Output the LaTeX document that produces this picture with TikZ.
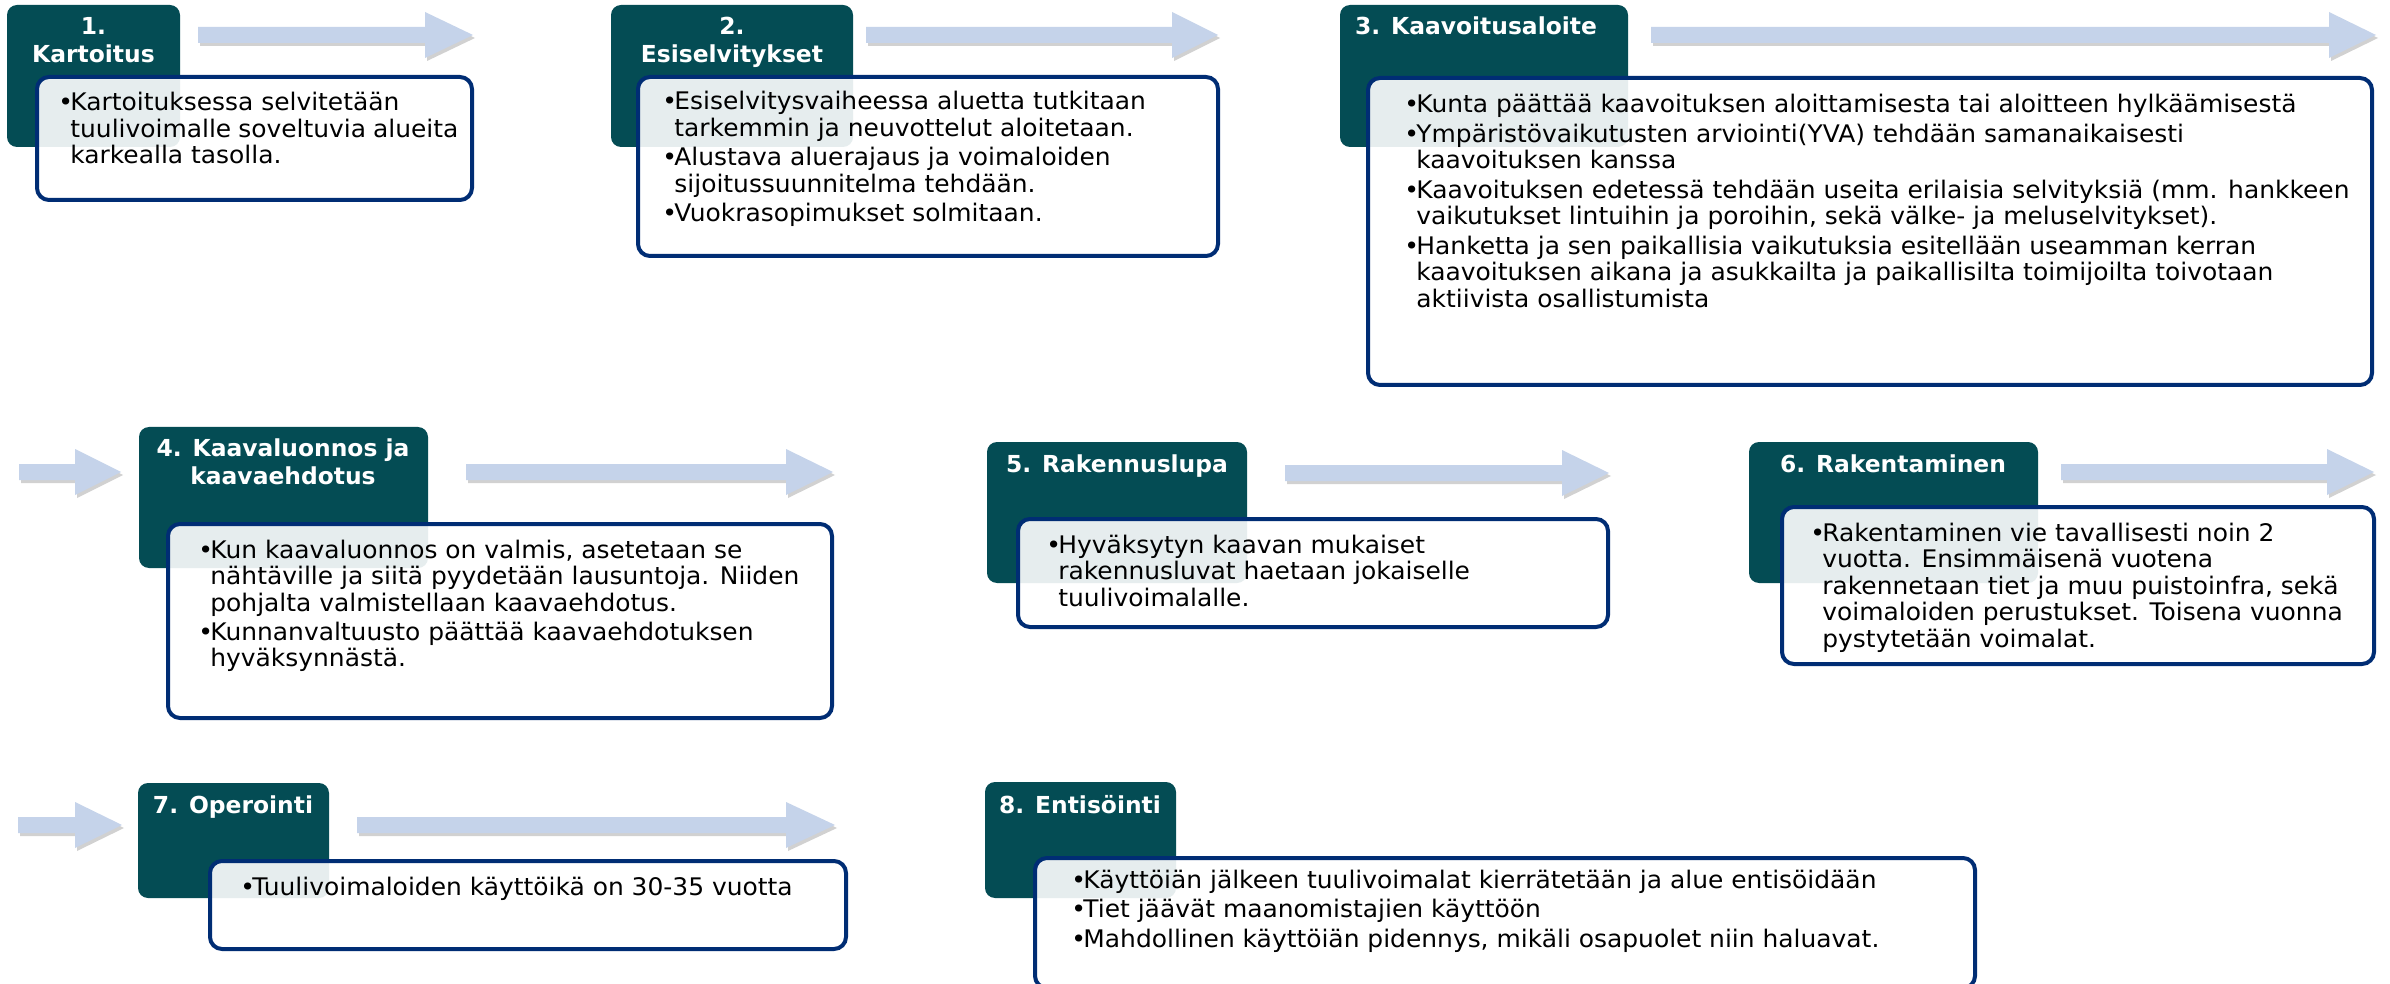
\documentclass[tikz,border=0pt]{standalone}
\usepackage{fontspec}
\setmainfont{DejaVu Sans}
\newfontfamily\bodyfont[FakeStretch=1.03]{DejaVu Sans}
\definecolor{hdrteal}{RGB}{4,76,84}
\definecolor{navyline}{RGB}{0,45,116}
\definecolor{arrowblue}{RGB}{197,211,234}
\newlength{\bulw}
\setlength{\bulw}{6pt}
\newcommand{\bitem}{\par\noindent\hangindent=\bulw\hangafter=1\makebox[\bulw][l]{•}\ignorespaces}
\newcommand{\bodytext}[2]{\parbox[t]{#1}{\bodyfont\fontsize{12.1pt}{13.25pt}\selectfont\parskip=1.5pt #2}}
\newcommand{\headtext}[2]{\parbox[t]{#1}{\fontsize{11.7pt}{13.6pt}\selectfont\bfseries\centering #2}}
\newcommand{\flowarrow}[4]{%
  \fill[arrowshade, shift={(2,3)}] (#1,#4-8) -- (#2,#4-8) -- (#2,#4-23) -- (#3,#4) -- (#2,#4+23) -- (#2,#4+8) -- (#1,#4+8) -- cycle;
  \fill[arrowblue] (#1,#4-8) -- (#2,#4-8) -- (#2,#4-23) -- (#3,#4) -- (#2,#4+23) -- (#2,#4+8) -- (#1,#4+8) -- cycle;
}
\tikzset{
  arrowshade/.style={fill=black, opacity=0.18},
  hdr/.style={fill=hdrteal, rounded corners=5pt, anchor=north west, inner sep=0pt, outer sep=0pt},
  wbox/.style={draw=navyline, line width=2pt, fill=white, fill opacity=0.9, rounded corners=6pt, anchor=north west, inner sep=0pt},
  htext/.style={text=white, anchor=base, inner sep=0pt},
  btext/.style={text=black, anchor=base west, inner sep=0pt},
}
\begin{document}
\begin{tikzpicture}[x=0.5pt, y=-0.5pt]
\useasboundingbox (0,0) rectangle (2390,984);
\fill[white] (0,0) rectangle (2390,984);
\clip (0,0) rectangle (2390,984);

% arrows
\flowarrow{198}{425}{473}{35}
\flowarrow{866}{1172}{1218}{35}
\flowarrow{1651}{2329}{2376}{35}
\flowarrow{19}{75}{121}{472}
\flowarrow{466}{786}{833}{472}
\flowarrow{1285}{1562}{1609}{473}
\flowarrow{2061}{2327}{2374}{472}
\flowarrow{18}{75}{122}{825}
\flowarrow{357}{786}{835}{825}

% header boxes
\node[hdr, minimum width=86.5pt, minimum height=71pt] (h1) at (7,5) {};
\node[hdr, minimum width=121pt, minimum height=71pt] (h2) at (611,5) {};
\node[hdr, minimum width=144pt, minimum height=71pt] (h3) at (1340,5) {};
\node[hdr, minimum width=144.5pt, minimum height=70.5pt] (h4) at (139,427) {};
\node[hdr, minimum width=130pt, minimum height=70.5pt] (h5) at (987,442) {};
\node[hdr, minimum width=144.5pt, minimum height=70.5pt] (h6) at (1749,442) {};
\node[hdr, minimum width=95.5pt, minimum height=57.5pt] (h7) at (138,783) {};
\node[hdr, minimum width=95.5pt, minimum height=58pt] (h8) at (985,782) {};

% header texts
\node[htext] (h1t) at (93.5,35) {\headtext{84pt}{1.\\Kartoitus}};
\node[htext] (h2t) at (732,35) {\headtext{118pt}{2.\\Esiselvitykset}};
\node[htext] (h3t) at (1476,35) {\headtext{140pt}{3. Kaavoitusaloite}};
\node[htext] (h4t) at (283,457) {\headtext{140pt}{4. Kaavaluonnos ja\\kaavaehdotus}};
\node[htext] (h5t) at (1117,473) {\headtext{126pt}{5. Rakennuslupa}};
\node[htext] (h6t) at (1893,473) {\headtext{140pt}{6. Rakentaminen}};
\node[htext] (h7t) at (233,813) {\headtext{92pt}{7. Operointi}};
\node[htext] (h8t) at (1080,813) {\headtext{92pt}{8. Entisöinti}};

% white boxes
\node[wbox, minimum width=217.5pt, minimum height=61.5pt] (w1) at (35,75) {};
\node[wbox, minimum width=290pt, minimum height=89.5pt] (w2) at (636,75) {};
\node[wbox, minimum width=502pt, minimum height=153.5pt] (w3) at (1366,76) {};
\node[wbox, minimum width=332pt, minimum height=97pt] (w4) at (166,522) {};
\node[wbox, minimum width=295pt, minimum height=54pt] (w5) at (1016,517) {};
\node[wbox, minimum width=296pt, minimum height=78.5pt] (w6) at (1780,505) {};
\node[wbox, minimum width=318pt, minimum height=44pt] (w7) at (208,859) {};
\node[wbox, minimum width=470pt, minimum height=65pt] (w8) at (1033,856) {};

% body texts
\node[btext] (t1) at (58,111) {\bodytext{200pt}{%
\bitem Kartoituksessa selvitetään\\tuulivoimalle soveltuvia alueita\\karkealla tasolla.}};
\node[btext] (t2) at (662,110) {\bodytext{270pt}{%
\bitem Esiselvitysvaiheessa aluetta tutkitaan\\tarkemmin ja neuvottelut aloitetaan.
\bitem Alustava aluerajaus ja voimaloiden\\sijoitussuunnitelma tehdään.
\bitem Vuokrasopimukset solmitaan.}};
\node[btext] (t3) at (1404,113) {\bodytext{480pt}{%
\bitem Kunta päättää kaavoituksen aloittamisesta tai aloitteen hylkäämisestä
\bitem Ympäristövaikutusten arviointi(YVA) tehdään samanaikaisesti\\kaavoituksen kanssa
\bitem Kaavoituksen edetessä tehdään useita erilaisia selvityksiä (mm. hankkeen\\vaikutukset lintuihin ja poroihin, sekä välke- ja meluselvitykset).
\bitem Hanketta ja sen paikallisia vaikutuksia esitellään useamman kerran\\kaavoituksen aikana ja asukkailta ja paikallisilta toimijoilta toivotaan\\aktiivista osallistumista}};
\node[btext] (t4) at (198,558) {\bodytext{310pt}{%
\bitem Kun kaavaluonnos on valmis, asetetaan se\\nähtäville ja siitä pyydetään lausuntoja. Niiden\\pohjalta valmistellaan kaavaehdotus.
\bitem Kunnanvaltuusto päättää kaavaehdotuksen\\hyväksynnästä.}};
\node[btext] (t5) at (1046,553) {\bodytext{270pt}{%
\bitem Hyväksytyn kaavan mukaiset\\rakennusluvat haetaan jokaiselle\\tuulivoimalalle.}};
\node[btext] (t6) at (1810,541) {\bodytext{275pt}{%
\bitem Rakentaminen vie tavallisesti noin 2\\vuotta. Ensimmäisenä vuotena\\rakennetaan tiet ja muu puistoinfra, sekä\\voimaloiden perustukset. Toisena vuonna\\pystytetään voimalat.}};
\node[btext] (t7) at (240,895) {\bodytext{300pt}{%
\bitem Tuulivoimaloiden käyttöikä on 30-35 vuotta}};
\node[btext] (t8) at (1071,888) {\bodytext{450pt}{%
\bitem Käyttöiän jälkeen tuulivoimalat kierrätetään ja alue entisöidään
\bitem Tiet jäävät maanomistajien käyttöön
\bitem Mahdollinen käyttöiän pidennys, mikäli osapuolet niin haluavat.}};
\end{tikzpicture}
\end{document}
